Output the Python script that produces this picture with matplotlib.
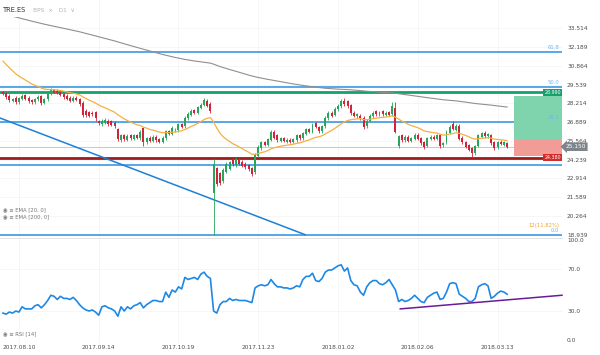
"""TRE.ES daily candles with EMA, Fibonacci levels, trade box and RSI panel."""

import matplotlib

matplotlib.use("Agg")

import matplotlib.pyplot as plt
import matplotlib.transforms as mtransforms
import numpy as np
from matplotlib.patches import Rectangle


OPENS = [
    29.00, 28.95, 28.75, 28.40, 28.60, 28.30, 28.55, 28.80, 28.60, 28.45,
    28.30, 28.50, 28.70, 28.25, 28.50, 28.90, 29.15, 29.10, 29.00, 28.85,
    28.75, 28.60, 28.40, 28.60, 28.50, 28.24, 27.68, 27.60, 27.55, 27.60,
    26.95, 26.75, 26.85, 27.00, 26.95, 26.85, 26.40, 25.60, 25.95, 25.65,
    25.95, 25.70, 25.95, 25.75, 26.45, 25.45, 25.80, 25.55, 25.85, 25.70,
    25.50, 25.75, 26.25, 26.05, 26.30, 26.30, 26.75, 26.60, 27.15, 27.40,
    27.75, 27.55, 27.90, 28.10, 28.40, 28.20, 21.90, 23.65, 23.30, 22.70,
    23.40, 23.60, 24.20, 23.85, 24.30, 24.10, 23.95, 23.85, 23.65, 23.35,
    24.50, 25.05, 25.45, 25.30, 25.65, 26.20, 25.95, 25.55, 25.75, 25.50,
    25.65, 25.50, 25.60, 25.95, 25.75, 26.05, 26.40, 26.20, 26.80, 26.55,
    26.25, 26.60, 27.15, 27.55, 27.40, 27.80, 28.00, 28.40, 28.35, 28.10,
    27.55, 27.30, 27.35, 27.20, 26.60, 27.00, 27.30, 27.65, 27.40, 27.65,
    27.40, 27.60, 27.45, 27.90, 25.20, 25.95, 25.60, 25.85, 25.55, 25.70,
    26.00, 25.75, 25.45, 25.20, 25.70, 25.85, 25.70, 25.95, 25.25, 25.45,
    26.15, 26.75, 26.35, 26.65, 25.80, 25.45, 25.25, 25.05, 24.70, 25.20,
    25.85, 26.15, 25.90, 25.95, 25.45, 25.10, 25.50, 25.30, 25.40,
]
CLOSES = [
    28.87, 28.66, 28.45, 28.52, 28.31, 28.59, 28.73, 28.52, 28.38, 28.31,
    28.52, 28.66, 28.24, 28.52, 28.94, 29.16, 29.02, 28.94, 28.80, 28.66,
    28.52, 28.38, 28.59, 28.45, 28.17, 27.40, 27.39, 27.32, 27.46, 27.18,
    26.80, 27.00, 27.04, 26.75, 26.70, 26.60, 25.70, 25.95, 25.70, 25.90,
    25.75, 25.95, 25.80, 26.20, 25.45, 25.75, 25.55, 25.85, 25.60, 25.50,
    25.80, 26.25, 26.05, 26.45, 26.35, 26.75, 26.55, 27.20, 27.45, 27.70,
    27.55, 27.95, 28.10, 28.45, 28.05, 27.65, 23.90, 22.50, 22.60, 23.50,
    23.95, 24.05, 23.90, 24.30, 23.95, 23.80, 23.70, 23.55, 23.25, 24.60,
    25.15, 25.45, 25.30, 25.70, 26.20, 25.80, 25.60, 25.75, 25.55, 25.65,
    25.50, 25.70, 25.95, 25.75, 26.10, 26.40, 26.20, 26.70, 26.55, 26.25,
    26.60, 27.20, 27.55, 27.35, 27.85, 28.05, 28.35, 28.15, 28.00, 27.55,
    27.35, 27.45, 27.15, 26.55, 27.00, 27.35, 27.55, 27.45, 27.60, 27.45,
    27.55, 27.40, 28.00, 26.20, 25.90, 25.60, 25.85, 25.55, 25.75, 26.00,
    25.70, 25.40, 25.10, 25.75, 25.85, 25.70, 25.95, 25.20, 25.40, 26.20,
    26.55, 26.40, 26.65, 25.70, 25.45, 25.15, 24.95, 24.70, 25.20, 25.95,
    26.10, 25.90, 26.05, 25.40, 25.05, 25.45, 25.35, 25.45, 25.15,
]
HIGHS = [
    29.10, 29.05, 28.85, 28.62, 28.72, 28.68, 28.85, 28.90, 28.70, 28.55,
    28.62, 28.78, 28.80, 28.62, 29.05, 29.28, 29.25, 29.20, 29.10, 28.95,
    28.85, 28.70, 28.70, 28.70, 28.58, 28.35, 27.78, 27.70, 27.65, 27.70,
    27.05, 27.12, 27.15, 27.10, 27.05, 26.95, 26.50, 26.05, 26.05, 26.02,
    26.05, 26.05, 26.05, 26.32, 26.55, 25.85, 25.90, 25.95, 25.95, 25.80,
    25.90, 26.35, 26.35, 26.58, 26.45, 26.85, 26.85, 27.30, 27.58, 27.82,
    27.85, 28.05, 28.22, 28.60, 28.55, 28.30, 24.30, 23.75, 23.40, 23.62,
    24.05, 24.15, 24.32, 24.42, 24.40, 24.20, 24.05, 23.95, 23.75, 24.70,
    25.25, 25.55, 25.55, 25.80, 26.33, 26.30, 26.05, 25.85, 25.85, 25.75,
    25.75, 25.80, 26.05, 26.05, 26.20, 26.50, 26.50, 26.82, 26.90, 26.65,
    26.70, 27.30, 27.65, 27.65, 27.95, 28.15, 28.55, 28.60, 28.45, 28.20,
    27.65, 27.55, 27.45, 27.30, 27.10, 27.45, 27.65, 27.75, 27.70, 27.75,
    27.65, 27.70, 28.30, 28.30, 26.00, 26.05, 25.95, 25.95, 25.85, 26.10,
    26.10, 25.85, 25.55, 25.85, 25.95, 25.95, 26.05, 26.05, 25.50, 26.30,
    26.70, 27.00, 26.78, 26.75, 25.90, 25.55, 25.35, 25.15, 25.30, 26.05,
    26.20, 26.25, 26.15, 26.05, 25.55, 25.55, 25.60, 25.55, 25.50,
]
LOWS = [
    28.78, 28.55, 28.32, 28.30, 28.18, 28.20, 28.45, 28.42, 28.25, 28.20,
    28.20, 28.40, 28.10, 28.15, 28.40, 28.80, 28.92, 28.84, 28.70, 28.55,
    28.42, 28.28, 28.30, 28.35, 28.05, 27.28, 27.28, 27.22, 27.35, 26.95,
    26.68, 26.65, 26.75, 26.65, 26.58, 26.48, 25.55, 25.50, 25.58, 25.55,
    25.65, 25.60, 25.70, 25.65, 25.20, 25.35, 25.45, 25.45, 25.50, 25.38,
    25.40, 25.65, 25.95, 25.95, 26.20, 26.20, 26.45, 26.50, 27.05, 27.30,
    27.45, 27.45, 27.80, 28.00, 27.95, 27.55, 18.94, 22.35, 22.45, 22.60,
    23.30, 23.50, 23.80, 23.75, 23.85, 23.70, 23.60, 23.45, 23.10, 23.25,
    24.40, 24.95, 25.20, 25.20, 25.55, 25.70, 25.50, 25.45, 25.45, 25.40,
    25.40, 25.40, 25.50, 25.65, 25.65, 25.95, 26.10, 26.10, 26.45, 26.15,
    26.15, 26.50, 27.05, 27.25, 27.30, 27.70, 27.90, 28.05, 27.90, 27.40,
    27.25, 27.20, 27.05, 26.40, 26.50, 26.90, 27.20, 27.35, 27.30, 27.35,
    27.30, 27.30, 27.35, 26.10, 25.05, 25.50, 25.50, 25.45, 25.45, 25.60,
    25.60, 25.30, 25.00, 25.10, 25.60, 25.60, 25.60, 25.05, 25.15, 25.35,
    26.05, 26.30, 26.25, 25.60, 25.35, 25.05, 24.85, 24.36, 24.60, 25.10,
    25.75, 25.80, 25.80, 25.30, 24.95, 25.00, 25.25, 25.20, 25.05,
]
RSI = [
    28, 27, 29, 28, 30, 29, 34, 32, 32, 32,
    35, 36, 33, 36, 40, 45, 44, 41, 44, 42,
    42, 41, 43, 40, 36, 33, 31, 30, 31, 29,
    26, 34, 35, 33, 32, 30, 25, 34, 30, 34,
    32, 35, 36, 38, 33, 36, 38, 40, 40, 39,
    39, 48, 43, 50, 48, 53, 51, 62, 60, 61,
    62, 60, 65, 67, 63, 61, 30, 28, 36, 39,
    39, 42, 40, 41, 40, 40, 40, 39, 38, 52,
    54, 55, 54, 55, 60, 56, 53, 53, 52, 52,
    51, 52, 54, 53, 60, 63, 63, 66, 59, 58,
    61, 67, 69, 69, 71, 73, 74, 68, 71, 59,
    55, 54, 48, 45, 53, 57, 59, 59, 56, 55,
    57, 60, 55, 50, 39, 41, 39, 40, 42, 45,
    42, 39, 38, 43, 45, 47, 48, 41, 42, 48,
    56, 57, 56, 46, 44, 42, 39, 39, 42, 53,
    55, 56, 54, 42, 44, 47, 49, 48, 46,
]

EMA20_START = 31.20
EMA200_START = 34.54

DATE_INDEX = [5, 30, 55, 80, 105, 130, 155]
DATE_LABELS = ["2017.08.10", "2017.09.14", "2017.10.19", "2017.11.23",
               "2018.01.02", "2018.02.06", "2018.03.13"]
PRICE_TICKS = [33.514, 32.189, 30.864, 29.539, 28.214, 26.889, 25.564,
               24.239, 22.914, 21.589, 20.264, 18.939]
RSI_TICKS = [100, 70, 30, 0]

FIB_LOW = 18.939
FIB_HIGH = 39.81
FIB_RATIOS = [0.0, 0.236, 0.382, 0.5, 0.618]
FIB_NAMES = ["0.0", "23.6", "38.2", "50.0", "61.8"]

GREEN_LEVEL = 28.99
RED_LEVEL = 24.38
TREND_X = [-0.94, 94.7]
TREND_Y = [27.18, 18.939]

BOX_START = 160
BOX_TARGET = 28.73
BOX_ENTRY = 25.63
BOX_STOP = 24.50

RSI_TREND_X = [124.5, 175.2]
RSI_TREND_Y = [32.0, 45.0]

W, H = 600, 355
X_RANGE = (-0.94, 175.2)
UP = "#26a65b"
DOWN = "#d0243a"
BLUE = "#2b8fe3"
LABEL = "#4d4d4d"


def ema(values, start, span):
    alpha = 2.0 / (span + 1)
    out = [start]
    for value in values[1:]:
        out.append(out[-1] + alpha * (value - out[-1]))
    return out


def fig_xy(x, y):
    return x / W, 1 - y / H


def draw_price(ax):
    idx = np.arange(len(CLOSES))
    opens = np.array(OPENS)
    closes = np.array(CLOSES)
    colors = np.where(closes >= opens, UP, DOWN)

    for ratio, name in zip(FIB_RATIOS, FIB_NAMES):
        level = FIB_LOW + ratio * (FIB_HIGH - FIB_LOW)
        ax.axhline(level, color=BLUE, lw=1.1, zorder=2)
        if name != "23.6":
            ax.text(0.995, level + 0.15, name, transform=ax.get_yaxis_transform(),
                    ha="right", va="bottom", fontsize=3.8, color="#6fb6ee", zorder=7)

    ax.axhline(GREEN_LEVEL, color="#17a06a", lw=2.0, zorder=2)
    ax.axhline(RED_LEVEL, color="#9e1b1b", lw=2.0, zorder=2)
    ax.axhline(CLOSES[-1], color="#c9c9c9", lw=0.7, zorder=2)
    ax.plot(TREND_X, TREND_Y, color="#1f7fd6", lw=1.1, zorder=2)

    right = X_RANGE[1]
    ax.add_patch(Rectangle((BOX_START, BOX_ENTRY), right - BOX_START, BOX_TARGET - BOX_ENTRY,
                           facecolor="#7fd4ae", edgecolor="none", zorder=2.5))
    ax.add_patch(Rectangle((BOX_START, BOX_STOP), right - BOX_START, BOX_ENTRY - BOX_STOP,
                           facecolor="#f29c98", edgecolor="none", zorder=2.5))

    ax.plot(idx, ema(CLOSES, EMA200_START, 200), color="#8f8f8f", lw=0.8, zorder=3)
    ax.plot(idx, ema(CLOSES, EMA20_START, 20), color="#f5b041", lw=0.9, zorder=5)

    ax.vlines(idx, LOWS, HIGHS, colors=colors, lw=0.6, zorder=4)
    ax.bar(idx, np.maximum(np.abs(closes - opens), 0.03), bottom=np.minimum(opens, closes),
           width=0.62, color=colors, lw=0, zorder=4)

    trans = ax.get_yaxis_transform()
    ax.text(0.998, GREEN_LEVEL, f"{GREEN_LEVEL:.3f}", transform=trans, ha="right", va="center",
            fontsize=3.4, color="white", zorder=8,
            bbox=dict(boxstyle="square,pad=0.25", fc="#17a06a", ec="none"))
    ax.text(0.998, RED_LEVEL, f"{RED_LEVEL:.3f}", transform=trans, ha="right", va="center",
            fontsize=3.4, color="white", zorder=8,
            bbox=dict(boxstyle="square,pad=0.25", fc="#d42a2a", ec="none"))
    ax.text(1.006, CLOSES[-1], f"{CLOSES[-1]:.3f}", transform=trans, ha="left", va="center",
            fontsize=4.2, color="white", zorder=8, clip_on=False,
            bbox=dict(boxstyle="larrow,pad=0.3", fc="#7d858c", ec="none"))
    ax.text(0.995, FIB_LOW + 0.45, "12(11.82%)", transform=trans, ha="right", va="bottom",
            fontsize=3.8, color="#f5a623", zorder=7)

    ax.set_xlim(*X_RANGE)
    ax.set_ylim(35.513 - 237 / 14.16, 35.513)
    ax.set_yticks(PRICE_TICKS)
    ax.set_yticklabels([f"{t:.3f}" for t in PRICE_TICKS])
    ax.set_xticks(DATE_INDEX)
    ax.set_xticklabels([])


def draw_rsi(ax):
    idx = np.arange(len(RSI))
    ax.plot(idx, RSI, color="#1e88e5", lw=1.2, zorder=3)
    ax.plot(RSI_TREND_X, RSI_TREND_Y, color="#6a1b9a", lw=1.1, zorder=3, clip_on=False)

    ax.set_xlim(*X_RANGE)
    ax.set_ylim(0, 100)
    ax.set_yticks(RSI_TICKS)
    labels = ax.set_yticklabels([f"{t:.1f}" for t in RSI_TICKS])
    labels[0].set_va("top")
    labels[-1].set_va("bottom")
    ax.set_xticks(DATE_INDEX)
    ax.set_xticklabels(DATE_LABELS)


def style(ax):
    ax.yaxis.tick_right()
    ax.tick_params(axis="both", length=0, labelsize=4.2, labelcolor=LABEL)
    ax.tick_params(axis="y", pad=3.6)
    ax.tick_params(axis="x", pad=1.5)
    ax.grid(color="#f3f3f3", lw=0.5, zorder=0)
    for spine in ax.spines.values():
        spine.set_visible(False)


def main():
    fig = plt.figure(figsize=(W / 100, H / 100), dpi=100)
    fig.patch.set_facecolor("white")

    ax = fig.add_axes([0, 1 - 237 / H, 562 / W, 237 / H])
    rsi_ax = fig.add_axes([0, 1 - 342.5 / H, 562 / W, 105 / H])
    style(ax)
    style(rsi_ax)
    rsi_ax.spines["top"].set_visible(True)
    rsi_ax.spines["top"].set_color("#dddddd")
    rsi_ax.spines["top"].set_linewidth(0.6)

    draw_price(ax)
    draw_rsi(rsi_ax)

    fig.text(*fig_xy(3, 10), "TRE.ES", fontsize=4.8, color="#333333", va="center",
             bbox=dict(boxstyle="square,pad=0.6", fc="white", ec="none"), zorder=10)
    fig.text(*fig_xy(33, 10), "BPS  ×   D1  ∨", fontsize=4.2, color="#b5b5b5", va="center")
    fig.text(*fig_xy(3, 210), "◉ ≡ EMA [20, 0]", fontsize=3.8, color="#777777", va="center")
    fig.text(*fig_xy(3, 217), "◉ ≡ EMA [200, 0]", fontsize=3.8, color="#777777", va="center")
    fig.text(*fig_xy(3, 334), "◉ ≡ RSI [14]", fontsize=3.8, color="#777777", va="center")

    fig.savefig("out.png", dpi=100, facecolor="white")
    plt.close(fig)


if __name__ == "__main__":
    main()
